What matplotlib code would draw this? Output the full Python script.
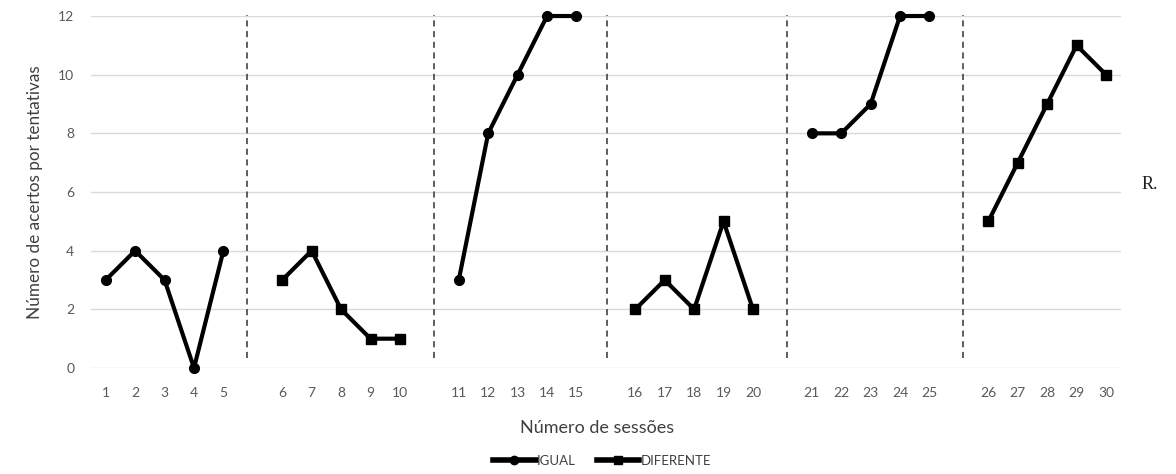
import matplotlib.pyplot as plt
import numpy as np

# Dati
sessoes = list(range(1, 31))
nan = np.nan
igual = [3, 4, 3, 0, 4,
         nan, nan, nan, nan, nan,
         3, 8, 10, 12, 12,
         nan, nan, nan, nan, nan,
         8, 8, 9, 12, 12,
         nan, nan, nan, nan, nan]
diferente = [nan, nan, nan, nan, nan,
             3, 4, 2, 1, 1,
             nan, nan, nan, nan, nan,
             2, 3, 2, 5, 2,
             nan, nan, nan, nan, nan,
             5, 7, 9, 11, 10]
yticks = [0, 2, 4, 6, 8, 10, 12]

# posizione con uno spazio vuoto tra i blocchi di 5 sessioni
pos = np.array([s - 1 + (s - 1) // 5 for s in sessoes], dtype=float)
divisorias = [4.79, 11.15, 17.03, 23.15, 29.14]

plt.rcParams['font.family'] = ['Lato', 'DejaVu Sans']

fig = plt.figure(figsize=(11.76, 4.74), dpi=100)
ax = fig.add_axes([0.0774, 0.2236, 0.8756, 0.7426])

ax.plot(pos, igual, color='black', lw=3, marker='o', ms=7,
        label='IGUAL', clip_on=False, zorder=3)
ax.plot(pos, diferente, color='black', lw=3, marker='s', ms=7,
        label='DIFERENTE', clip_on=False, zorder=3)

for x in divisorias:
    ax.plot([x, x], [0.35, 12.05], color='#333333', lw=1.1,
            ls=(0, (4, 3)), clip_on=False, zorder=2)

ax.set_xlim(-0.5, pos[-1] + 0.5)
ax.set_ylim(0, 12)
ax.set_yticks(yticks)
ax.set_xticks(pos)
ax.set_xticklabels([str(s) for s in sessoes])
ax.yaxis.grid(True, color='#d9d9d9', lw=1)
ax.set_axisbelow(True)
for s in ax.spines.values():
    s.set_visible(False)
ax.tick_params(axis='both', length=0, labelsize=10, colors='#595959')
ax.tick_params(axis='x', pad=14)
ax.tick_params(axis='y', pad=12)

ax.set_xlabel('Número de sessões', fontsize=13, color='#404040')
ax.xaxis.set_label_coords(0.491, -0.148)
ax.set_ylabel('Número de acertos por tentativas', fontsize=12.3,
              color='#404040', labelpad=11)

fig.text(0.978, 0.61, 'R.', family='Liberation Serif', fontsize=13,
         color='#1f1f1f', ha='center', va='center')

leg = fig.legend(loc='lower center', bbox_to_anchor=(0.512, -0.01), ncol=2,
                 frameon=False, fontsize=9.5, labelcolor='#404040',
                 handlelength=3.2, handletextpad=0.1, columnspacing=1.6)
for h in leg.legend_handles:
    h.set_linewidth(4)
    h.set_markersize(6)

plt.savefig('out.png', dpi=100)
